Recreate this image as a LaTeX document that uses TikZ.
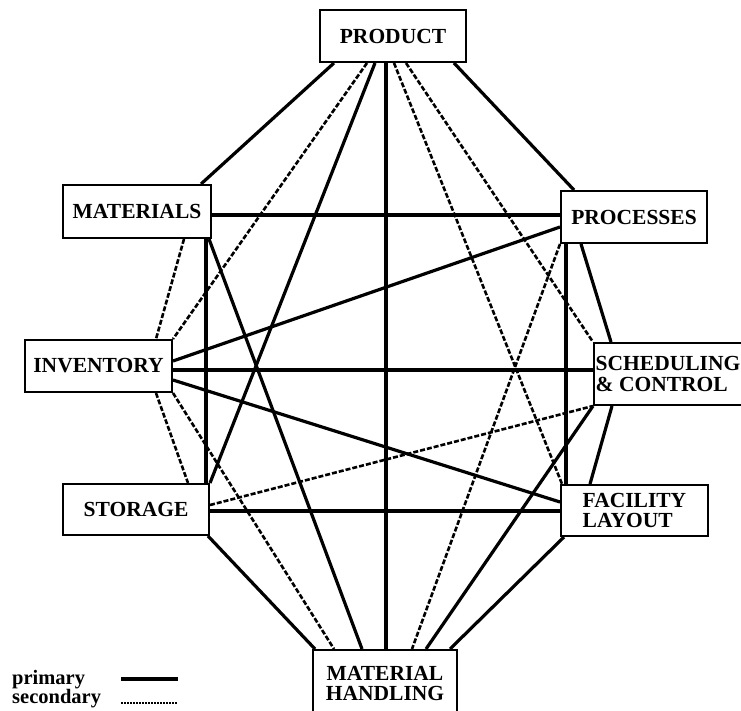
\documentclass[tikz,border=0pt]{standalone}
\usepackage{fontspec}
\setmainfont{Liberation Serif}

\begin{document}
\begin{tikzpicture}[x=1pt,y=-1pt,
  box/.style={draw,line width=2pt,inner sep=0pt,font=\bfseries\fontsize{21.5}{20.5}\selectfont},
  legend/.style={inner sep=0pt,font=\bfseries\fontsize{20.5}{18}\selectfont},
  primary/.style={line width=3.2pt},
  secondary/.style={line width=2.6pt,dash pattern=on 5pt off 2pt}]
  \useasboundingbox (0,0) rectangle (741,711);
  % the eight areas
  \node[box,minimum width=146pt,minimum height=52pt] (prod) at (393,36) {PRODUCT};
  \node[box,minimum width=148pt,minimum height=53pt] (mat) at (137,211.5) {MATERIALS};
  \node[box,minimum width=146pt,minimum height=52pt] (proc) at (634,217) {PROCESSES};
  \node[box,minimum width=147pt,minimum height=52pt] (inv) at (98.5,366) {INVENTORY};
  \node[box,minimum width=148pt,minimum height=62pt,align=left] (sched) at (668,374) {SCHEDULING\\\& CONTROL};
  \node[box,minimum width=146pt,minimum height=51pt] (stor) at (136,509.5) {STORAGE};
  \node[box,minimum width=147pt,minimum height=51pt,align=left] (fac) at (634.5,510.5) {FACILITY\\LAYOUT};
  \node[box,minimum width=144pt,minimum height=67pt,align=center] (mh) at (385,683.5) {MATERIAL\\HANDLING};
  % relations
  \foreach \a/\xa/\ya/\b/\xb/\yb/\s in {
      prod.south west/15/0/mat.north east/-11/0/primary,
      prod.south west/48/0/inv.north east/0/0/secondary,
      prod.south west/56/0/stor.north east/0/0/primary,
      prod.south/-7/0/mh.north/1/0/primary,
      prod.south west/75/0/fac.north west/2/0/secondary,
      prod.south west/87/0/sched.north west/0/0/secondary,
      prod.south east/-13/0/proc.north west/14/0/primary,
      mat.east/0/-3.5/proc.west/0/2/primary,
      mat.south east/-6/0/stor.north east/-4/0/primary,
      mat.south east/-28/0/inv.north east/-17/0/secondary,
      mat.south east/-3/0/mh.north west/50/0/primary,
      inv.east/0/5/proc.west/0/-10/primary,
      inv.east/0/-4/sched.west/0/4/primary,
      inv.east/0/-14/fac.west/0/8.5/primary,
      inv.south east/-17/0/stor.north east/-22/0/secondary,
      inv.south east/0/0/mh.north west/22/0/secondary,
      stor.east/0/-1.5/fac.west/0/-0.5/primary,
      stor.east/0/4.5/sched.south west/0/0/secondary,
      stor.south east/-2/0/mh.north west/3/0/primary,
      proc.south west/0/0/mh.north west/100/0/secondary,
      proc.south west/6/0/fac.north west/6/0/primary,
      proc.south west/21/0/sched.north west/18/0/primary,
      sched.south west/19/0/fac.north west/30/0/primary,
      sched.south west/0/0/mh.north west/114/0/primary,
      fac.south west/4/0/mh.north west/138/0/primary}
    \draw[\s] ([xshift=\xa pt,yshift=\ya pt]\a) -- ([xshift=\xb pt,yshift=\yb pt]\b);
  % legend
  \node[legend,anchor=base west] (lprim) at (12,684) {primary};
  \node[legend,anchor=base west] (lsec) at (12,703) {secondary};
  \draw[primary] (lprim.base east -| 121,0) ++(0,-5) -- ++(57,0);
  \draw[line width=1.6pt,dash pattern=on 2pt off 1pt] (lsec.base east -| 121,0) -- ++(56,0);
\end{tikzpicture}
\end{document}
